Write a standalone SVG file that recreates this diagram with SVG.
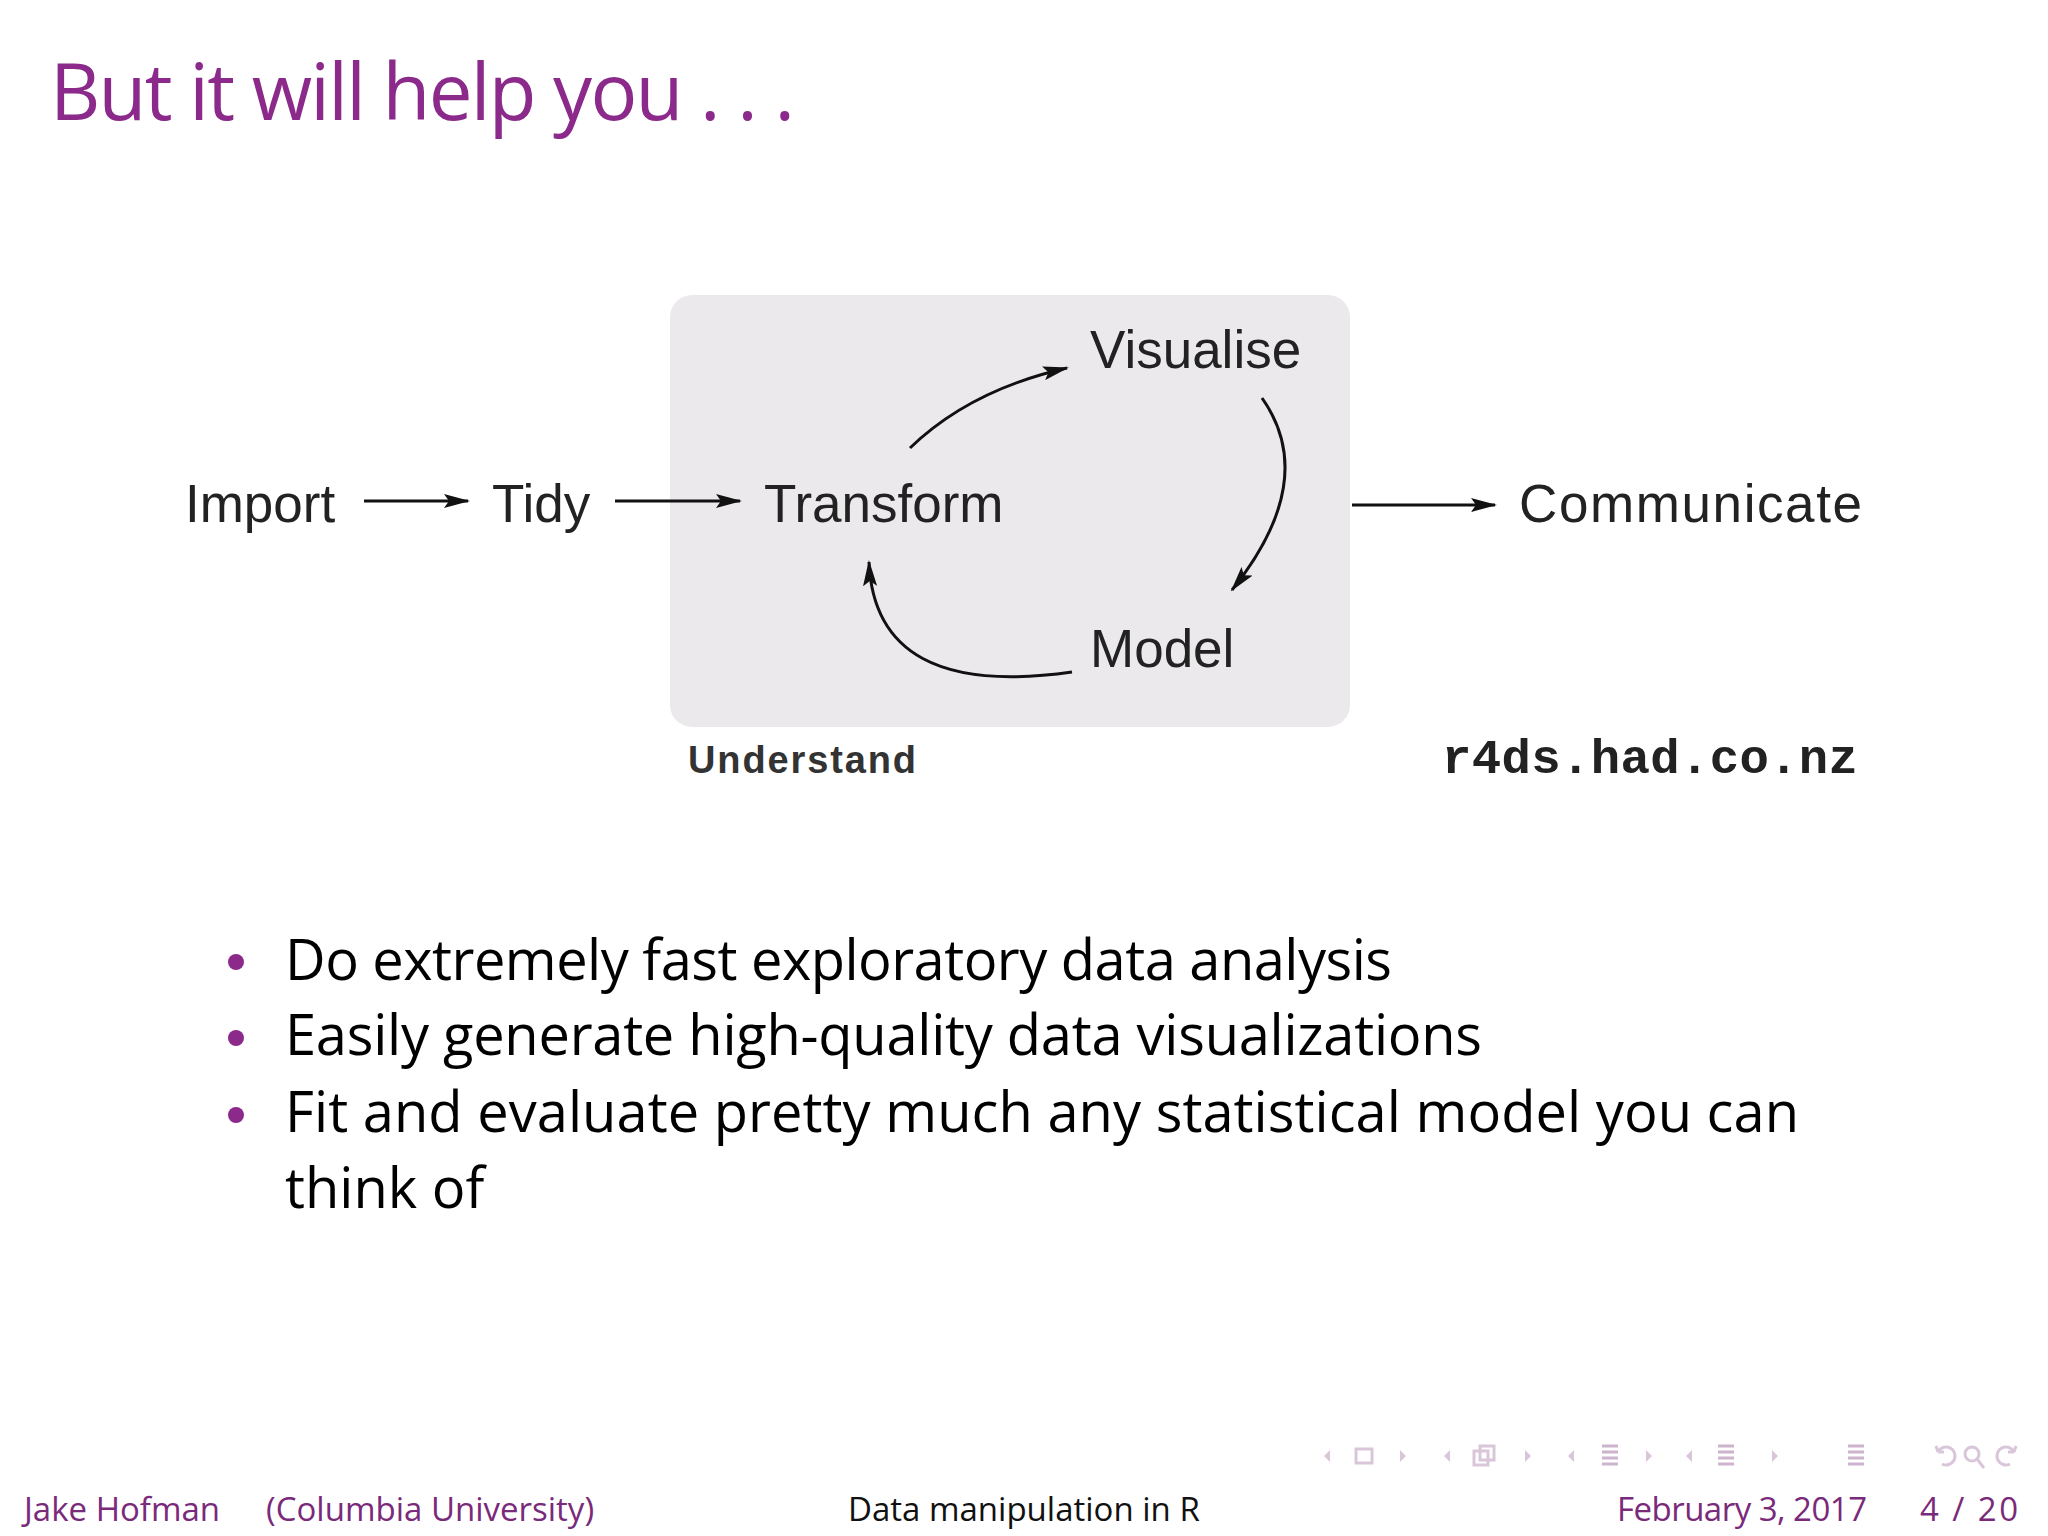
<svg xmlns="http://www.w3.org/2000/svg" width="2048" height="1536" viewBox="0 0 2048 1536">
<style>
.d{font-family:"Liberation Sans",Arial,sans-serif;font-size:53px;fill:#222}
.f{font-family:"Open Sans","DejaVu Sans",sans-serif;font-size:33px;fill:#7a2a7a}
.c{stroke:#111;stroke-width:3;fill:none;marker-end:url(#a)}
.n{fill:#d9c6d9}
</style>
<defs><marker id="a" viewBox="0 0 26 14" refX="24" refY="7" markerWidth="26" markerHeight="14" orient="auto" markerUnits="userSpaceOnUse"><path d="M0,0 L26,7 L0,14 L5,7 z" fill="#111"/></marker></defs>
<rect width="2048" height="1536" fill="#fff"/>
<text x="50" y="120" font-family="Open Sans,DejaVu Sans,sans-serif" font-size="78" fill="#8b2a8b" textLength="745">But it will help you . . .</text>
<g id="understand"><rect x="670" y="295" width="680" height="432" rx="22" fill="#ebe9ec"/>
<text x="688" y="773" font-family="Liberation Sans,Arial,sans-serif" font-weight="bold" font-size="38" fill="#333" textLength="228">Understand</text></g>
<g id="import"><text class="d" x="185" y="522">Import</text></g>
<g id="tidy"><text class="d" x="492" y="522">Tidy</text></g>
<g id="transform"><text class="d" x="764" y="522">Transform</text></g>
<g id="visualise"><text class="d" x="1090" y="368">Visualise</text></g>
<g id="model"><text class="d" x="1090" y="667">Model</text></g>
<g id="communicate"><text class="d" x="1519" y="522" textLength="343">Communicate</text></g>
<text x="1442" y="773" font-family="Liberation Mono,Courier New,monospace" font-weight="bold" font-size="49" fill="#222" textLength="416">r4ds.had.co.nz</text>
<g id="connectors">
<path class="c" d="M364,501 H468"/>
<path class="c" d="M615,501 H740"/>
<path class="c" d="M1352,505 H1495"/>
<path class="c" d="M910,448 Q970,390 1067,368"/>
<path class="c" d="M1262,398 Q1320,480 1232,590"/>
<path class="c" d="M1072,672 Q875,700 869,562"/>
</g>
<g font-family="Open Sans,DejaVu Sans,sans-serif" font-size="56" fill="#000">
<circle cx="236" cy="962" r="8" fill="#8b2a8b"/><circle cx="236" cy="1038" r="8" fill="#8b2a8b"/><circle cx="236" cy="1115" r="8" fill="#8b2a8b"/>
<text x="285" y="980" textLength="1107">Do extremely fast exploratory data analysis</text>
<text x="285" y="1055" textLength="1197">Easily generate high-quality data visualizations</text>
<text x="285" y="1132" textLength="1514">Fit and evaluate pretty much any statistical model you can</text>
<text x="285" y="1208">think of</text>
</g>
<g id="footer">
<text class="f" x="24" y="1521">Jake Hofman</text>
<text class="f" x="266" y="1521">(Columbia University)</text>
<text class="f" x="848" y="1521" style="fill:#111">Data manipulation in R</text>
<text class="f" x="1617" y="1521" textLength="250">February 3, 2017</text>
<text class="f" x="1920" y="1521" textLength="98">4 / 20</text>
</g>
<g id="nav" stroke-width="3">
<path class="n" d="M1330,1450 l-6,6 l6,6z M1400,1450 l6,6 l-6,6z M1450,1450 l-6,6 l6,6z M1525,1450 l6,6 l-6,6z M1574,1450 l-6,6 l6,6z M1646,1450 l6,6 l-6,6z M1692,1450 l-6,6 l6,6z M1772,1450 l6,6 l-6,6z"/>
<rect x="1356" y="1449" width="16" height="14" fill="none" stroke="#d9c6d9"/>
<rect x="1474" y="1451" width="14" height="14" fill="none" stroke="#d9c6d9"/>
<rect x="1480" y="1446" width="14" height="14" fill="none" stroke="#d9c6d9"/>
<path d="M1602,1446h16M1602,1452h16M1602,1458h16M1602,1464h16M1718,1446h16M1718,1452h16M1718,1458h16M1718,1464h16M1848,1446h16M1848,1452h16M1848,1458h16M1848,1464h16" stroke="#cdb3cd"/>
<path d="M1938,1452a9,9 0 1 1 4,12 M1938,1452 l-2,-6 M1938,1452 l6,0 M2014,1452a9,9 0 1 0 -4,12 M2014,1452 l2,-6 M2014,1452 l-6,0" stroke="#d9c6d9" fill="none"/>
<circle cx="1972" cy="1454" r="7" fill="none" stroke="#d9c6d9"/><path d="M1977,1459l7,9" stroke="#d9c6d9"/>
</g>
</svg>
